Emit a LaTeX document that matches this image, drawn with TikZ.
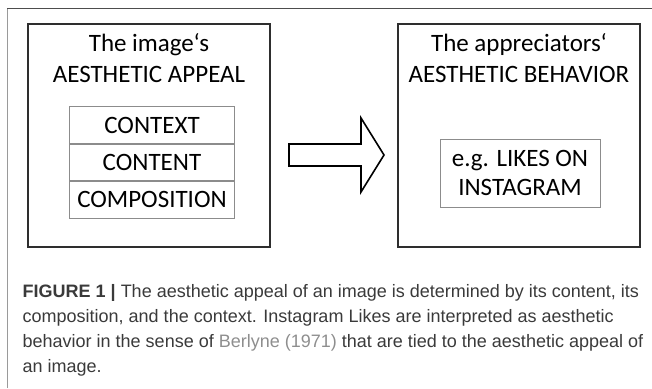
\documentclass[tikz,border=0pt]{standalone}
\usepackage{fontspec}
\usetikzlibrary{positioning}
\setmainfont{Carlito}
\newfontfamily\capfont{Liberation Sans}
\definecolor{framegray}{HTML}{9A9A9A}
\definecolor{boxline}{HTML}{2E2E2E}
\definecolor{rowline}{HTML}{8C8C8C}
\definecolor{captext}{HTML}{3A3A3A}
\definecolor{citegray}{HTML}{8E8E8E}
\tikzset{
  panel/.style={draw=boxline,line width=1.3pt,minimum width=242pt,minimum height=223pt,inner sep=0pt},
  row/.style={draw=rowline,line width=0.9pt,minimum width=165.5pt,minimum height=36.5pt,inner sep=0pt,font=\fontsize{25}{30}\selectfont},
  title/.style={align=center,font=\fontsize{25}{30.7}\selectfont},
  capline/.style={anchor=base west,inner sep=0pt,text=captext,font=\capfont\fontsize{18}{21}\selectfont}
}
\begin{document}
\begin{tikzpicture}[x=1pt,y=-1pt]
  \useasboundingbox (0,0) rectangle (652,388);
  % frame of the figure
  \draw[framegray,line width=1.6pt] (7.5,388) -- (7.5,8.5);
  \draw[boxline!85,line width=1.2pt] (7,8.5) -- (652,8.5);

  % left panel
  \node[panel] (appeal) at (149,135.5) {};
  \node[title,anchor=north] (appealtitle) at (149,30) {The image‘s\\AESTHETIC APPEAL};
  \node[row] (context) at (152,125) {CONTEXT};
  \node[row,below=0pt of context] (content) {CONTENT};
  \node[row,below=0pt of content] (composition) {COMPOSITION};

  % right panel
  \node[panel] (behavior) at (519,135.5) {};
  \node[title,anchor=north] (behaviortitle) at (519,30) {The appreciators‘\\AESTHETIC BEHAVIOR};
  \node[draw=rowline,line width=0.9pt,minimum width=160pt,minimum height=68pt,inner sep=0pt,align=center,font=\fontsize{25}{29}\selectfont] (likes) at (520,173) {e.g. LIKES ON\\INSTAGRAM};

  % block arrow
  \draw[black,line width=1.6pt,line join=miter] (289,144) -- (361,144) -- (361,118) -- (384,155)
    -- (361,192) -- (361,166) -- (289,166) -- cycle;

  % caption
  \node[capline] (cap1) at (22.5,297) {\textbf{FIGURE 1 |} The aesthetic appeal of an image is determined by its content, its};
  \node[capline] (cap2) at (22.5,322) {composition, and the context. Instagram Likes are interpreted as aesthetic};
  \node[capline] (cap3) at (22.5,347) {behavior in the sense of \textcolor{citegray}{Berlyne (1971)} that are tied to the aesthetic appeal of};
  \node[capline] (cap4) at (22.5,372) {an image.};
\end{tikzpicture}
\end{document}
